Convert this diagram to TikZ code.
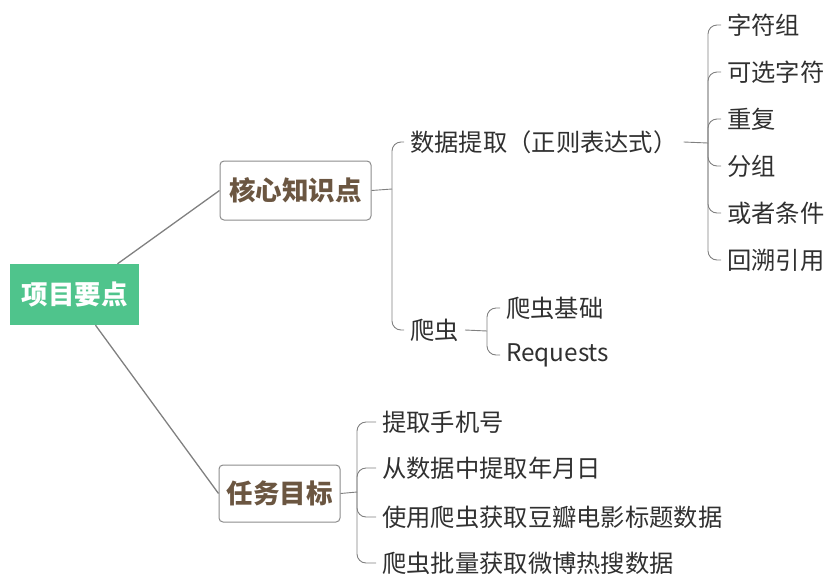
\documentclass[tikz,border=0pt]{standalone}
\usepackage{fontspec}
\setmainfont{Noto Sans CJK SC}
\definecolor{rootgreen}{HTML}{4FC48C}
\definecolor{linegray}{HTML}{808080}
\definecolor{boxgray}{HTML}{8C8C8C}
\definecolor{boxbrown}{HTML}{6B5641}
\definecolor{leaftext}{HTML}{303030}
\tikzset{
 link/.style={draw=linegray, line width=1.3pt},
 bracelink/.style={draw=linegray, line width=0.9pt, rounded corners=9pt},
 rootbox/.style={fill=rootgreen, text=white, font=\fontsize{26.5}{30}\selectfont\bfseries, minimum width=129pt, minimum height=61pt, inner sep=0pt},
 mainbox/.style={draw=boxgray, line width=1pt, rounded corners=4pt, fill=white, text=boxbrown, font=\fontsize{26.5}{30}\selectfont\bfseries, inner sep=0pt},
 leaf/.style={anchor=west, inner xsep=6pt, inner ysep=0pt, font=\fontsize{24.3}{28}\selectfont, text=leaftext}
}
\begin{document}
\begin{tikzpicture}[x=1pt,y=-1pt]
\useasboundingbox (0,0) rectangle (827,579);
% main nodes
\node[rootbox] (root) at (74.5,294.5) {项目要点};
\node[mainbox, minimum width=151pt, minimum height=59pt] (core) at (295.5,190.5) {核心知识点};
\node[mainbox, minimum width=121pt, minimum height=57pt] (task) at (279.5,493.5) {任务目标};
\draw[link] ([xshift=43pt]root.north) -- (core.west);
\draw[link] ([xshift=21pt]root.south) -- (task.west);
% core children
\node[leaf] (dx) at (404,142) {数据提取（正则表达式）};
\node[leaf] (pc) at (404,330) {爬虫};
\coordinate (bc) at (392,189);
\draw[bracelink] (core.east) -- (bc);
\draw[bracelink] (bc) |- (dx.west);
\draw[bracelink] (bc) |- (pc.west);
% regex children
\node[leaf] (r1) at (721,25) {字符组};
\node[leaf] (r2) at (721,72) {可选字符};
\node[leaf] (r3) at (721,119) {重复};
\node[leaf] (r4) at (721,166) {分组};
\node[leaf] (r5) at (721,213) {或者条件};
\node[leaf] (r6) at (721,260) {回溯引用};
\coordinate (br) at (708,143);
\draw[bracelink] (dx.east) -- (br);
\foreach \n in {r1,r2,r3,r4,r5,r6}{\draw[bracelink] (br) |- (\n.west);}
% crawler children
\node[leaf] (c1) at (500,308) {爬虫基础};
\node[leaf] (c2) at (500,355) {Requests};
\coordinate (bp) at (487,331);
\draw[bracelink] (pc.east) -- (bp);
\draw[bracelink] (bp) |- (c1.west);
\draw[bracelink] (bp) |- (c2.west);
% task children
\node[leaf] (t1) at (376,422) {提取手机号};
\node[leaf] (t2) at (376,468) {从数据中提取年月日};
\node[leaf] (t3) at (376,517) {使用爬虫获取豆瓣电影标题数据};
\node[leaf] (t4) at (376,563) {爬虫批量获取微博热搜数据};
\coordinate (bt) at (357,492);
\draw[bracelink] (task.east) -- (bt);
\foreach \n in {t1,t2,t3,t4}{\draw[bracelink] (bt) |- (\n.west);}
\end{tikzpicture}
\end{document}
